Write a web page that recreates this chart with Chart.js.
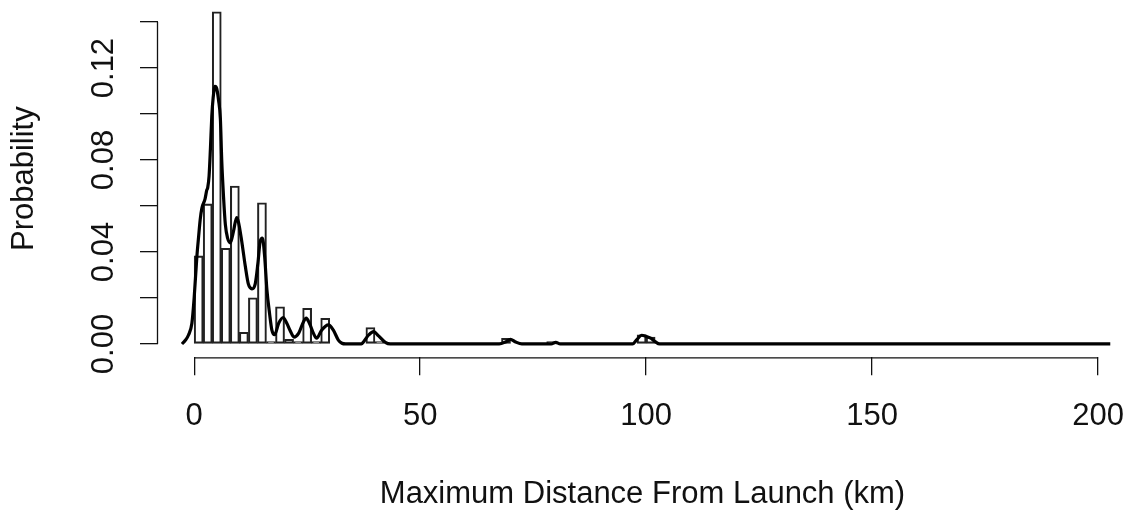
<!DOCTYPE html>
<html>
<head>
<meta charset="utf-8">
<script src="https://cdn.jsdelivr.net/npm/chart.js@4/dist/chart.umd.min.js"></script>
<style>
  html, body { margin: 0; padding: 0; background: #fff; }
  #chart { display: block; }
</style>
</head>
<body>
<canvas id="chart" width="1127" height="513"></canvas>
<script>
// histogram bins (mid point of each 2 km bin) and their density heights
const binMids = [1, 3, 5, 7, 9, 11, 13, 15, 17, 19, 21, 23, 25, 27, 29, 39, 41, 69, 79, 99, 101];
const binHeights = [0.0383, 0.0609, 0.1445, 0.0416, 0.0687, 0.0051, 0.0201, 0.0614, 0.001, 0.0162,
                    0.002, 0.001, 0.0155, 0.001, 0.0112, 0.0071, 0.001, 0.0025, 0.001, 0.004, 0.003];

// kernel density curve
const densX = [-2.7, -2, -1.25, -0.5, 0, 0.6, 1.0, 1.33, 1.7, 2.4, 2.8, 3.0, 3.3, 3.6, 3.9, 4.2, 4.6, 5.0,
               5.4, 5.8, 6.1, 6.5, 6.9, 7.4, 8.0, 8.7, 9.4, 9.8, 10.5, 11.3, 12.0, 12.8, 13.5, 14.1, 14.6,
               15.1, 15.6, 16.1, 16.7, 17.2, 17.8, 18.7, 19.7, 20.5, 21.2, 22.1, 23.1, 24.2, 24.8, 25.5,
               26.4, 27.1, 28.2, 29.7, 30.8, 31.9, 32.7, 33.5, 37, 37.5, 38.6, 39.7, 40.8, 42.3, 43.4,
               67.5, 69, 70, 71, 72.5, 79, 80, 81, 97, 98, 99, 100, 101, 102, 103, 202.7];
const densY = [0, 0.0015, 0.0039, 0.009, 0.02, 0.038, 0.047, 0.054, 0.059, 0.063, 0.067, 0.068, 0.073,
               0.085, 0.099, 0.107, 0.112, 0.111, 0.106, 0.098, 0.08, 0.064, 0.052, 0.046, 0.044, 0.049,
               0.055, 0.053, 0.045, 0.034, 0.026, 0.024, 0.026, 0.035, 0.0445, 0.046, 0.038, 0.0235, 0.013,
               0.006, 0.004, 0.009, 0.0115, 0.009, 0.006, 0.003, 0.0046, 0.0097, 0.0112, 0.009, 0.0046,
               0.0025, 0.006, 0.0083, 0.006, 0.0017, 0.0003, 0, 0, 0.001, 0.0039, 0.0054, 0.0035, 0.0007, 0,
               0, 0.001, 0.002, 0.001, 0, 0, 0.0007, 0, 0, 0.002, 0.0038, 0.0033, 0.0025, 0.001, 0, 0];

// axis ticks
const xTicks = [0, 50, 100, 150, 200];
const yTicks = [0, 0.02, 0.04, 0.06, 0.08, 0.10, 0.12, 0.14];
const yLabels = [0, 0.04, 0.08, 0.12];

const FONT = '"Liberation Sans", Arial, sans-serif';
const INK = '#111';

// R style axis lines that only span the tick range, plus rotated y labels
const rAxes = {
    id: 'rAxes',
    afterDraw(chart) {
        const { ctx, scales: { x, y }, chartArea } = chart;
        ctx.save();
        ctx.strokeStyle = INK;
        ctx.lineWidth = 1.3;
        ctx.beginPath();
        ctx.moveTo(chartArea.left - 0.5, y.getPixelForValue(yTicks[0]));
        ctx.lineTo(chartArea.left - 0.5, y.getPixelForValue(yTicks[yTicks.length - 1]));
        ctx.moveTo(x.getPixelForValue(xTicks[0]), chartArea.bottom + 0.5);
        ctx.lineTo(x.getPixelForValue(xTicks[xTicks.length - 1]), chartArea.bottom + 0.5);
        ctx.stroke();

        ctx.fillStyle = INK;
        ctx.font = '31px ' + FONT;
        ctx.textAlign = 'center';
        ctx.textBaseline = 'alphabetic';
        yLabels.forEach(v => {
            ctx.save();
            ctx.translate(113, y.getPixelForValue(v));
            ctx.rotate(-Math.PI / 2);
            ctx.fillText(v.toFixed(2), 0, 0);
            ctx.restore();
        });
        ctx.restore();
    }
};

new Chart(document.getElementById('chart'), {
    type: 'bar',
    data: {
        datasets: [
            {
                type: 'line',
                data: densX.map((v, i) => ({ x: v, y: densY[i] })),
                borderColor: '#000',
                borderWidth: 3.2,
                pointRadius: 0,
                cubicInterpolationMode: 'monotone',
                fill: false,
                order: 0
            },
            {
                type: 'bar',
                data: binMids.map((v, i) => ({ x: v, y: binHeights[i] })),
                backgroundColor: 'rgba(255,255,255,0)',
                borderColor: '#222',
                borderWidth: 1.4,
                borderSkipped: false,
                barPercentage: 1,
                categoryPercentage: 1,
                order: 1
            }
        ]
    },
    options: {
        responsive: false,
        animation: false,
        devicePixelRatio: 1,
        layout: { padding: 0 },
        plugins: { legend: { display: false }, tooltip: { enabled: false } },
        scales: {
            x: {
                type: 'linear',
                offset: false,
                min: -8,
                max: 206.4,
                afterBuildTicks: s => { s.ticks = xTicks.map(v => ({ value: v })); },
                afterFit: s => { s.height = 155.7; s.paddingLeft = 0; s.paddingRight = 0; },
                grid: { offset: false, drawOnChartArea: false, color: INK, lineWidth: 1.3, tickLength: 18 },
                border: { display: false },
                ticks: { color: INK, font: { family: FONT, size: 31 }, padding: 23, maxRotation: 0, autoSkip: false },
                title: {
                    display: true,
                    text: 'Maximum Distance From Launch (km)',
                    color: INK,
                    font: { family: FONT, size: 31 },
                    padding: { top: 0, bottom: 0 }
                }
            },
            y: {
                min: -0.0058,
                max: 0.1496,
                afterBuildTicks: s => { s.ticks = yTicks.map(v => ({ value: v })); },
                afterFit: s => { s.width = 158; s.paddingTop = 0; s.paddingBottom = 0; },
                grid: { drawOnChartArea: false, color: INK, lineWidth: 1.3, tickLength: 18 },
                border: { display: false },
                ticks: { display: false },
                title: {
                    display: true,
                    text: 'Probability',
                    color: INK,
                    font: { family: FONT, size: 31 },
                    padding: { top: 6, bottom: 0 }
                }
            }
        }
    },
    plugins: [rAxes]
});
</script>
</body>
</html>
